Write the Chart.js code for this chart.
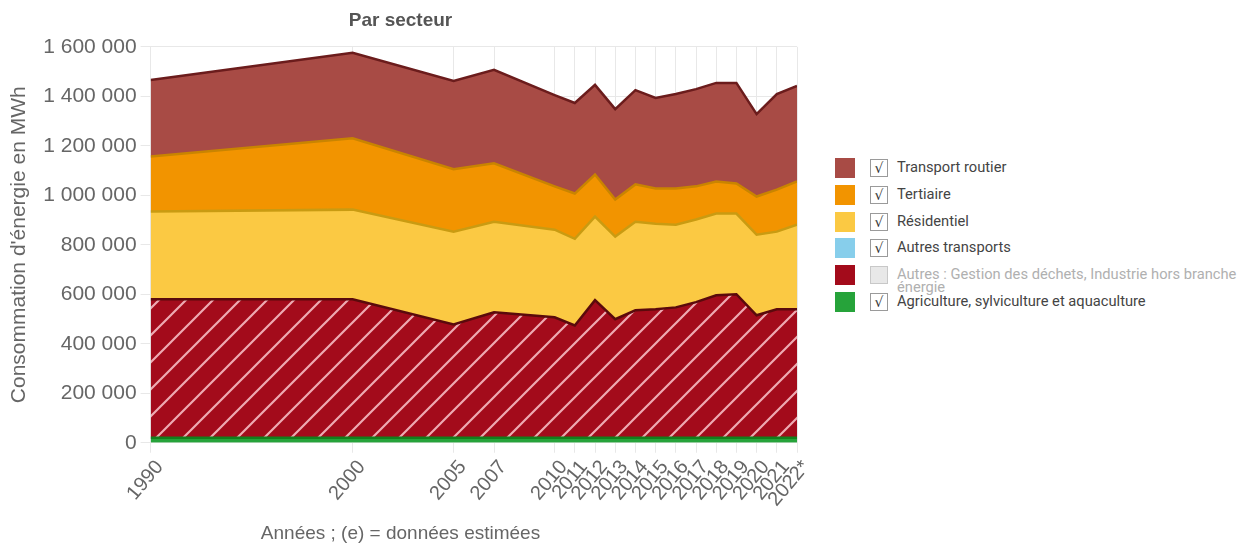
<!DOCTYPE html>
<html>
<head>
<meta charset="utf-8">
<script src="https://cdn.jsdelivr.net/npm/chart.js@4.4.0/dist/chart.umd.min.js"></script>
<style>
body { margin: 0; background: #fff; width: 1239px; height: 547px; overflow: hidden; position: relative; }
#wrap { position: absolute; left: 0; top: 0; width: 806px; height: 547px; }
#legend { position: absolute; left: 835px; top: 158px; width: 404px; font-family: Roboto, sans-serif; font-size: 14.7px; color: #444; }
.row { position: absolute; left: 0; height: 20px; width: 404px; }
.sq { position: absolute; left: 0; top: 0; width: 20px; height: 20px; }
.cb { position: absolute; left: 35px; top: 1px; width: 16px; height: 16px; border: 1px solid #9a9a9a; background: #fff;
      font-size: 14px; line-height: 16px; text-align: center; color: #333; font-family: "DejaVu Sans", sans-serif; }
.cb.off { background: #e8e8e8; border-color: #c8c8c8; }
.txt { position: absolute; left: 62px; top: 3px; line-height: 13px; width: 346px; white-space: normal; }
.txt.off { color: #b0b0b0; }
</style>
</head>
<body>
<div id="wrap"><canvas id="myChart"></canvas></div>
<div id="legend"></div>
<script>
// données (MWh)
const years = [1990, 2000, 2005, 2007, 2010, 2011, 2012, 2013, 2014, 2015, 2016, 2017, 2018, 2019, 2020, 2021, 2022];
const agriculture = [20000, 20000, 20000, 20000, 20000, 20000, 20000, 20000, 20000, 20000, 20000, 20000, 20000, 20000, 20000, 20000, 20000];
const autres = [560000, 560000, 458000, 507000, 487000, 454000, 556000, 479000, 515000, 519000, 527000, 548000, 576000, 580000, 495000, 519000, 519000];
const autresTransports = [1000, 1000, 1000, 1000, 1000, 1000, 1000, 1000, 1000, 1000, 1000, 1000, 1000, 1000, 1000, 1000, 1000];
const residentiel = [353000, 361000, 374000, 365000, 353000, 349000, 337000, 333000, 357000, 345000, 333000, 333000, 329000, 325000, 325000, 313000, 341000];
const tertiaire = [223000, 288000, 252000, 236000, 175000, 183000, 170000, 150000, 151000, 142000, 146000, 134000, 130000, 122000, 154000, 170000, 175000];
const transportRoutier = [309000, 346000, 357000, 378000, 369000, 366000, 362000, 365000, 381000, 366000, 382000, 393000, 398000, 406000, 333000, 386000, 386000];
const yTicks = [0, 200000, 400000, 600000, 800000, 1000000, 1200000, 1400000, 1600000];

const toPts = (arr)=> arr.map((v, i)=>({ x: years[i], y: v }));

// motif hachuré pour "Autres"
const makeHatch = ()=>{
    const s = 27;
    const c = document.createElement('canvas');
    c.width = s; c.height = s;
    const g = c.getContext('2d');
    g.fillStyle = '#a30b1b';
    g.fillRect(0, 0, s, s);
    g.strokeStyle = '#eeaab2';
    g.lineWidth = 2.2;
    g.beginPath();
    g.moveTo(-2, s + 2); g.lineTo(s + 2, -2);
    g.moveTo(-s / 2 - 2, s / 2 + 2); g.lineTo(s / 2 + 2, -s / 2 - 2);
    g.moveTo(s / 2 - 2, s * 1.5 + 2); g.lineTo(s * 1.5 + 2, s / 2 - 2);
    g.stroke();
    return g.createPattern(c, 'repeat');
};

const series = [
    { label: 'Agriculture, sylviculture et aquaculture', data: agriculture, color: '#26a33a', border: '#12801c', on: true },
    { label: 'Autres : Gestion des déchets, Industrie hors branche énergie', data: autres, color: '#a30b1b', border: '#5a0a0c', on: false, hatch: true },
    { label: 'Autres transports', data: autresTransports, color: '#87ceeb', border: '#87ceeb', on: true },
    { label: 'Résidentiel', data: residentiel, color: '#fbc943', border: '#c99b12', on: true },
    { label: 'Tertiaire', data: tertiaire, color: '#f29400', border: '#c98400', on: true },
    { label: 'Transport routier', data: transportRoutier, color: '#a84b45', border: '#6b1c1c', on: true }
];

const hatch = makeHatch();
const datasets = series.map((s, i)=>({
    label: s.label,
    data: toPts(s.data),
    backgroundColor: s.hatch ? hatch : s.color,
    borderColor: s.border,
    borderWidth: i == 2 ? 0 : 2.5,
    pointRadius: 0,
    tension: 0,
    fill: i == 0 ? 'origin' : '-1'
}));

const fmt = (v)=> String(v).replace(/\B(?=(\d{3})+(?!\d))/g, ' ');

const ctx = document.getElementById('myChart').getContext('2d');
const myChart = new Chart(ctx, {
    type: 'line',
    data: { datasets: datasets },
    options: {
        responsive: false,
        animation: false,
        maintainAspectRatio: false,
        layout: { padding: { left: 4, right: 9, top: 0, bottom: 2 } },
        plugins: {
            legend: { display: false },
            tooltip: { enabled: false },
            title: {
                display: true,
                text: 'Par secteur',
                color: '#555',
                font: { family: 'Liberation Sans', size: 19, weight: 'bold' },
                padding: { top: 9, bottom: 15 }
            },
            subtitle: {
                display: true,
                position: 'bottom',
                text: 'Années ; (e) = données estimées',
                color: '#666',
                font: { family: 'Liberation Sans', size: 19 },
                padding: { top: 8, bottom: 0 }
            }
        },
        scales: {
            x: {
                type: 'linear',
                min: 1990,
                max: 2022,
                afterBuildTicks: (axis)=>{ axis.ticks = years.map(v=>({ value: v })); },
                afterFit: (axis)=>{ axis.paddingRight = 0; },
                ticks: {
                    color: '#666',
                    font: { family: 'Liberation Sans', size: 20 },
                    minRotation: 50,
                    maxRotation: 50,
                    autoSkip: false,
                    labelOffset: 9,
                    callback: (v)=> v == 2022 ? '2022*' : String(v)
                },
                grid: { color: '#e8e8e8', tickLength: 10 },
                border: { display: false }
            },
            y: {
                stacked: true,
                min: 0,
                max: 1600000,
                afterBuildTicks: (axis)=>{ axis.ticks = yTicks.map(v=>({ value: v })); },
                ticks: {
                    color: '#666',
                    font: { family: 'Liberation Sans', size: 21 },
                    padding: 4,
                    callback: (v)=> fmt(v)
                },
                grid: { color: '#e8e8e8', tickLength: 10 },
                border: { display: false },
                title: {
                    display: true,
                    text: "Consommation d'énergie en MWh",
                    color: '#666',
                    font: { family: 'Liberation Sans', size: 21 },
                    padding: { top: 3, bottom: 7 }
                }
            }
        }
    }
});
myChart.resize(806, 547);

// légende HTML à droite (ordre inverse de l'empilement)
const legend = document.getElementById('legend');
series.slice().reverse().forEach((s, i)=>{
    const row = document.createElement('div');
    row.className = 'row';
    row.style.top = (i * 26.8) + 'px';
    row.innerHTML = '<div class="sq" style="background:' + s.color + '"></div>' +
        '<div class="cb' + (s.on ? '' : ' off') + '">' + (s.on ? '√' : '') + '</div>' +
        '<div class="txt' + (s.on ? '' : ' off') + '">' + s.label + '</div>';
    legend.appendChild(row);
});
</script>
</body>
</html>
